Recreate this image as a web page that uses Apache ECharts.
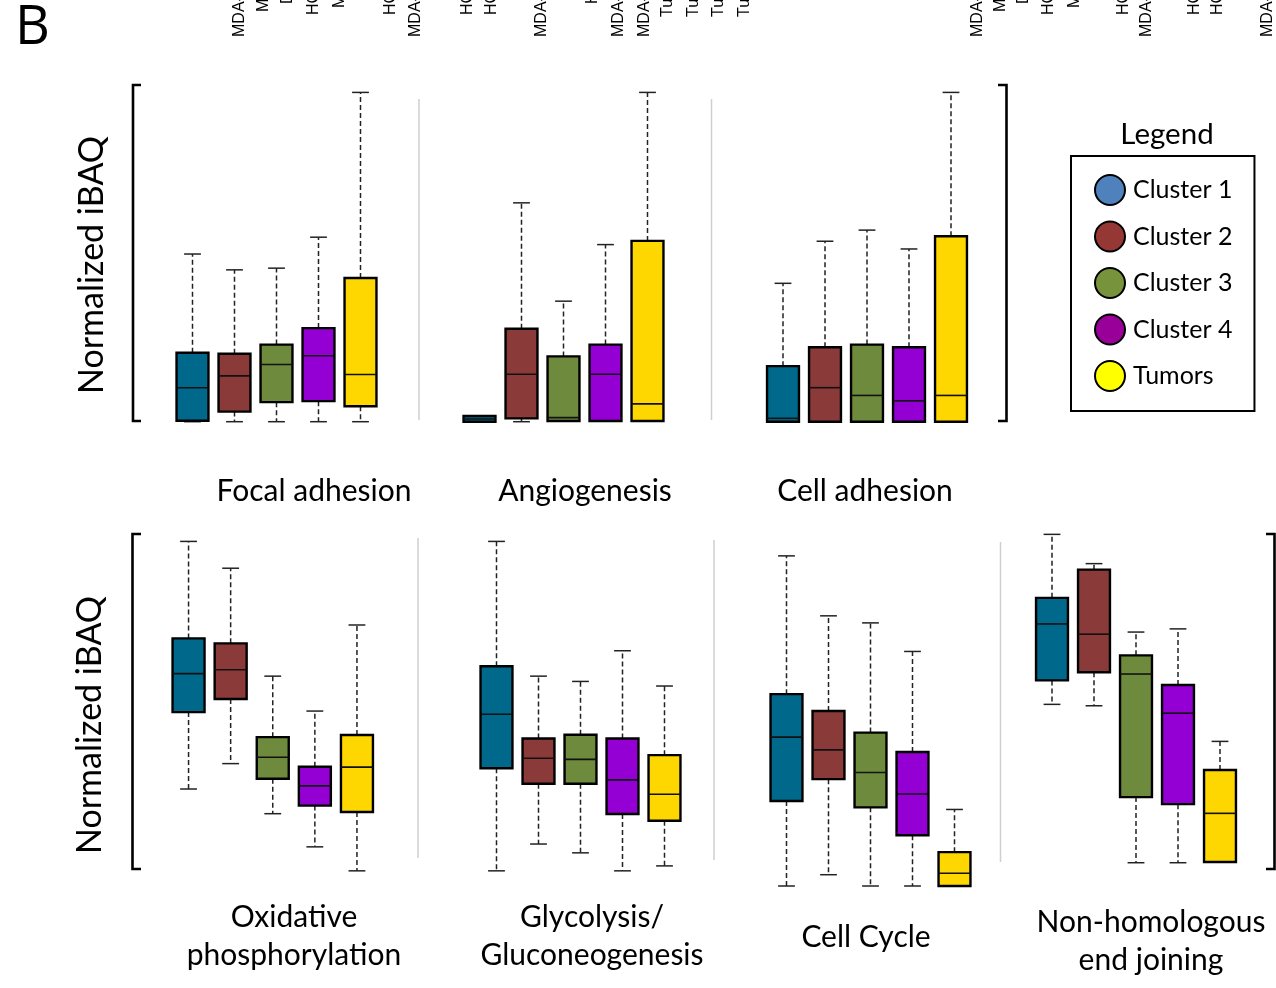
<!DOCTYPE html>
<html>
<head>
<meta charset="utf-8">
<script src="https://cdn.jsdelivr.net/npm/echarts@6/dist/echarts.min.js"></script>
<style>
html,body{margin:0;padding:0;background:#fff;}
#chart{width:1276px;height:988px;}
</style>
</head>
<body>
<div id="chart"></div>
<script>
// ---------------- DATA ----------------
const clusters = ['Cluster 1', 'Cluster 2', 'Cluster 3', 'Cluster 4', 'Tumors'];
const yAxisTitle = 'Normalized iBAQ';
const panelLabel = 'B';
const legendTitle = 'Legend';

// each row: [min, Q1, median, Q3, max]  (normalized iBAQ, 0..1 per row)
const focalAdhesion = [
  [0, 0.003, 0.101, 0.205, 0.498],
  [0, 0.030, 0.136, 0.202, 0.451],
  [0, 0.058, 0.170, 0.229, 0.456],
  [0, 0.061, 0.196, 0.278, 0.548],
  [0, 0.046, 0.140, 0.427, 0.978]
];
const angiogenesis = [
  [0, 0, 0.008, 0.017, 0.017],
  [0, 0.010, 0.141, 0.276, 0.650],
  [0.002, 0.002, 0.012, 0.194, 0.358],
  [0.002, 0.002, 0.141, 0.229, 0.526],
  [0.002, 0.002, 0.053, 0.537, 0.978]
];
const cellAdhesion = [
  [0, 0, 0.010, 0.165, 0.411],
  [0, 0, 0.101, 0.221, 0.536],
  [0, 0, 0.078, 0.229, 0.569],
  [0, 0, 0.062, 0.221, 0.513],
  [0, 0, 0.078, 0.551, 0.978]
];
const oxidativePhosphorylation = [
  [0.275, 0.493, 0.602, 0.702, 0.977],
  [0.347, 0.530, 0.613, 0.688, 0.901],
  [0.205, 0.304, 0.365, 0.422, 0.595],
  [0.111, 0.228, 0.284, 0.338, 0.496],
  [0.043, 0.210, 0.337, 0.428, 0.740]
];
const glycolysisGluconeogenesis = [
  [0.043, 0.334, 0.487, 0.623, 0.977],
  [0.119, 0.290, 0.362, 0.418, 0.595],
  [0.094, 0.290, 0.359, 0.429, 0.580],
  [0.043, 0.204, 0.301, 0.418, 0.667],
  [0.057, 0.185, 0.260, 0.371, 0.567]
];
const cellCycle = [
  [0, 0.241, 0.422, 0.544, 0.936],
  [0.032, 0.303, 0.386, 0.496, 0.766],
  [0, 0.223, 0.322, 0.435, 0.746],
  [0, 0.144, 0.261, 0.380, 0.665],
  [0, 0, 0.036, 0.096, 0.217]
];
const nonHomologousEndJoining = [
  [0.515, 0.583, 0.743, 0.817, 0.997],
  [0.511, 0.606, 0.714, 0.897, 0.914],
  [0.066, 0.252, 0.601, 0.654, 0.720],
  [0.066, 0.232, 0.490, 0.570, 0.729],
  [0.068, 0.068, 0.206, 0.329, 0.410]
];

const panelNames = ['Focal adhesion', 'Angiogenesis', 'Cell adhesion',
  'Oxidative\nphosphorylation', 'Glycolysis/\nGluconeogenesis', 'Cell Cycle', 'Non-homologous\nend joining'];
const panelData = [focalAdhesion, angiogenesis, cellAdhesion,
  oxidativePhosphorylation, glycolysisGluconeogenesis, cellCycle, nonHomologousEndJoining];

// clipped sample-name labels from the neighbouring panel (top edge)
const sampleLabels = ['MDA-MB-231', 'MCF7', 'DU4475', 'HCC1937', 'MDA-MB-453', 'HCC38', 'MDA-MB-468',
  'HCC1143', 'HCC1187', 'MDA-MB-436', 'HCC70', 'MDA-MB-157', 'MDA-MB-361',
  'Tumor 1', 'Tumor 2', 'Tumor 3', 'Tumor 4',
  'MDA-MB-231', 'MCF7', 'DU4475', 'HCC1937', 'MDA-MB-453', 'HCC38', 'MDA-MB-468', 'HCC1143', 'HCC1187', 'MDA-MB-436'];

// ---------------- STYLE / LAYOUT ----------------
const boxColors = ['#00688B', '#8B3A3A', '#6E8B3D', '#9400D3', '#FFD700'];
const legendColors = ['#4F81BD', '#953735', '#77933C', '#990099', '#FFFF00'];
const FONT = 'Lato, "Open Sans", sans-serif';

const grids = [
  {left: 171.5, top: 85, width: 210, height: 336.7},
  {left: 458.5, top: 85, width: 210, height: 336.7},
  {left: 762, top: 85, width: 210, height: 336.7},
  {left: 167.5, top: 533.3, width: 210.5, height: 352.7},
  {left: 475.5, top: 533.3, width: 210, height: 352.7},
  {left: 765.5, top: 533.3, width: 210, height: 352.7},
  {left: 1031, top: 533.3, width: 210, height: 352.7}
];
const panelLabelPos = [[314, 491], [585, 491], [865, 491], [294, 936], [592, 936], [866, 937], [1151, 941]];
const sampleLabelPos = [[240,37],[264,12],[288,4],[314,15],[340,8],[391,15],[416,37],
  [468,15],[492,15],[542,37],[593,4],[619,37],[645,37],
  [668,17],[694,17],[719,17],[745,17],
  [978,37],[1001,12],[1024,4],[1049,15],[1075,8],[1124,15],[1147,37],[1195,15],[1218,15],[1268,37]];

function renderBox(params, api) {
  const idx = api.value(0);
  const mn = api.value(1), q1 = api.value(2), md = api.value(3), q3 = api.value(4), mx = api.value(5);
  const band = api.size([1, 0])[0];
  const bw = band * 0.76, cw = band * 0.40;
  const pMin = api.coord([idx, mn]);
  const pQ1 = api.coord([idx, q1]);
  const pMd = api.coord([idx, md]);
  const pQ3 = api.coord([idx, q3]);
  const pMax = api.coord([idx, mx]);
  const x = pMin[0];
  const color = api.visual('color');
  const children = [];
  const dash = {stroke: '#222', lineWidth: 1.5, lineDash: [5, 3]};
  const cap = {stroke: '#222', lineWidth: 1.5};
  if (mx > q3) {
    children.push({type: 'line', shape: {x1: x, y1: pQ3[1], x2: x, y2: pMax[1]}, style: dash});
    children.push({type: 'line', shape: {x1: x - cw / 2, y1: pMax[1], x2: x + cw / 2, y2: pMax[1]}, style: cap});
  }
  if (mn < q1) {
    children.push({type: 'line', shape: {x1: x, y1: pQ1[1], x2: x, y2: pMin[1]}, style: dash});
    children.push({type: 'line', shape: {x1: x - cw / 2, y1: pMin[1], x2: x + cw / 2, y2: pMin[1]}, style: cap});
  }
  children.push({type: 'rect', shape: {x: x - bw / 2, y: pQ3[1], width: bw, height: pQ1[1] - pQ3[1]},
    style: {fill: color, stroke: '#000', lineWidth: 2.4}});
  children.push({type: 'line', shape: {x1: x - bw / 2, y1: pMd[1], x2: x + bw / 2, y2: pMd[1]},
    style: {stroke: '#111', lineWidth: 1.6}});
  return {type: 'group', children: children};
}

const series = [];
panelData.forEach((panel, p) => {
  panel.forEach((stats, c) => {
    series.push({
      type: 'custom',
      name: clusters[c],
      xAxisIndex: p,
      yAxisIndex: p,
      renderItem: renderBox,
      itemStyle: {color: boxColors[c]},
      encode: {x: 0, y: [1, 2, 3, 4, 5]},
      data: [[c].concat(stats)],
      silent: true,
      clip: false
    });
  });
});

const graphic = [];
// panel letter
graphic.push({type: 'text', x: 15, y: 2, style: {text: panelLabel, font: '400 54px "Open Sans", sans-serif', fill: '#000'}});
// clipped sample labels
sampleLabels.forEach((t, i) => {
  graphic.push({type: 'text', x: sampleLabelPos[i][0], y: sampleLabelPos[i][1], rotation: Math.PI / 2,
    style: {text: t, font: '16px "Liberation Sans", Arial, sans-serif', fill: '#000', align: 'left', verticalAlign: 'middle'}});
});
// brackets
const bracketStyle = {stroke: '#000', lineWidth: 2.6, fill: null};
graphic.push({type: 'polyline', shape: {points: [[141, 85], [133, 85], [133, 421], [141, 421]]}, style: bracketStyle});
graphic.push({type: 'polyline', shape: {points: [[998, 85], [1006.5, 85], [1006.5, 421], [998, 421]]}, style: bracketStyle});
graphic.push({type: 'polyline', shape: {points: [[141, 534], [132.5, 534], [132.5, 869], [141, 869]]}, style: bracketStyle});
graphic.push({type: 'polyline', shape: {points: [[1266, 534], [1274.5, 534], [1274.5, 869], [1266, 869]]}, style: bracketStyle});
// separators
const sepStyle = {stroke: '#cfcfcf', lineWidth: 1.5};
[[419, 99, 420], [711.5, 99, 420], [418, 538, 858], [714, 540, 860], [1000.5, 542, 862]].forEach(s => {
  graphic.push({type: 'line', shape: {x1: s[0], y1: s[1], x2: s[0], y2: s[2]}, style: sepStyle});
});
// y axis titles
[[92, 265], [90, 725]].forEach(p => {
  graphic.push({type: 'text', x: p[0], y: p[1], rotation: Math.PI / 2,
    style: {text: yAxisTitle, font: '34px ' + FONT, fill: '#000', align: 'center', verticalAlign: 'middle'}});
});
// panel names
panelNames.forEach((t, i) => {
  graphic.push({type: 'text', x: panelLabelPos[i][0], y: panelLabelPos[i][1],
    style: {text: t, font: '30px ' + FONT, fill: '#000', align: 'center', verticalAlign: 'middle', lineHeight: 38}});
});
// legend title
graphic.push({type: 'text', x: 1167, y: 134, style: {text: legendTitle, font: '29.5px ' + FONT, fill: '#000', align: 'center', verticalAlign: 'middle'}});

const option = {
  animation: false,
  backgroundColor: '#fff',
  grid: grids,
  xAxis: grids.map((g, i) => ({gridIndex: i, type: 'category', data: clusters, show: false})),
  yAxis: grids.map((g, i) => ({gridIndex: i, type: 'value', min: 0, max: 1, show: false})),
  legend: {
    orient: 'vertical',
    left: 1071, top: 156,
    itemWidth: 30, itemHeight: 30, itemGap: 14.5,
    padding: [18, 22, 19, 23],
    borderColor: '#000', borderWidth: 2,
    icon: 'circle',
    selectedMode: false,
    textStyle: {fontSize: 25, fontFamily: FONT, color: '#000', padding: [0, 0, 0, 3], lineHeight: 30, height: 30},
    data: clusters.map((n, i) => ({name: n, itemStyle: {color: legendColors[i], borderColor: '#000', borderWidth: 2}}))
  },
  graphic: graphic,
  series: series
};

const chart = echarts.init(document.getElementById('chart'), null, {renderer: 'canvas'});
chart.setOption(option);
</script>
</body>
</html>
